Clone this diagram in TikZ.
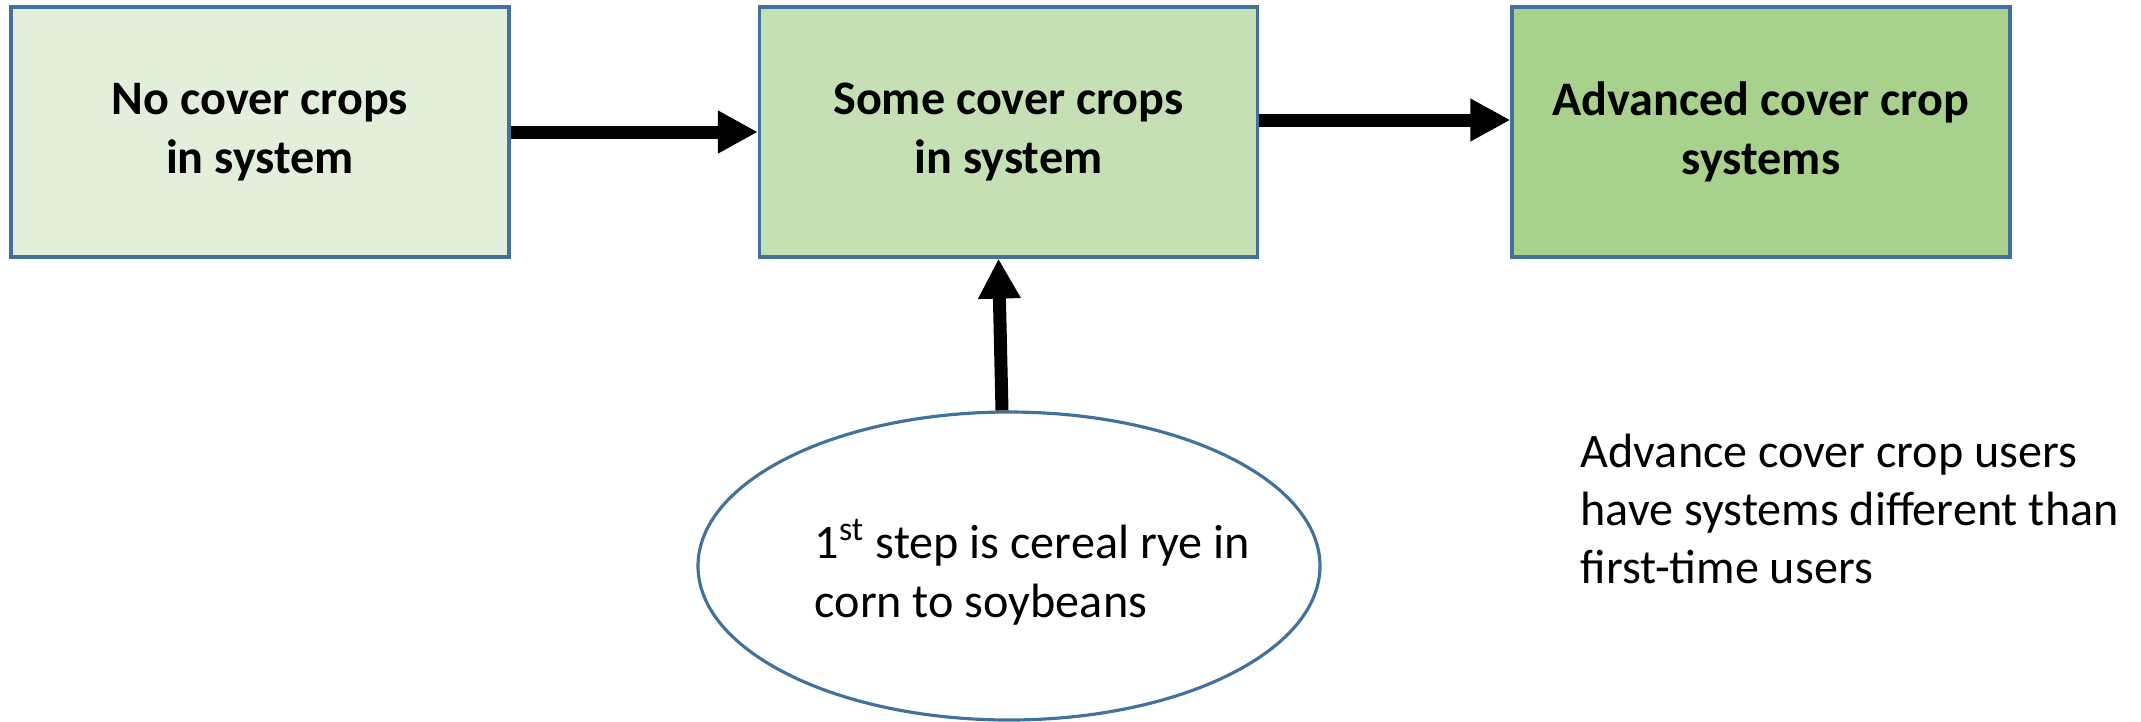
\documentclass[tikz,border=0pt]{standalone}
\usepackage{fontspec}
\setmainfont{Carlito}
\usetikzlibrary{arrows.meta, positioning, calc, shapes.geometric}
\definecolor{edgec}{HTML}{41719C}
\definecolor{nonec}{HTML}{E2EFDA}
\definecolor{somec}{HTML}{C5E0B4}
\definecolor{advc}{HTML}{A9D18E}
\newcommand{\diagfont}{\fontsize{13.7pt}{16.6pt}\selectfont}
\tikzset{
  stagebox/.style={rectangle, draw=edgec, line width=0.9pt,
    minimum width=4.98cm, minimum height=2.5cm, inner sep=0pt,
    align=center, font=\diagfont\bfseries},
  flow/.style={-{Triangle[length=4mm, width=4mm]}, line width=1.3mm, black}
}

\begin{document}
\begin{tikzpicture}
    \path[use as bounding box] (0,0) rectangle (21.41,-7.21);
    \node[stagebox, fill=nonec] (nocc) at (2.60,-1.32) {No cover crops\\in system};
    \node[stagebox, fill=somec] (somecc) at (10.085,-1.32) {Some cover crops\\in system};
    \node[stagebox, fill=advc] (advcc) at (17.61,-1.32) {Advanced cover crop\\systems};
    \node[ellipse, draw=edgec, fill=white, line width=0.9pt,
          minimum width=6.22cm, minimum height=3.08cm] (first) at (10.09,-5.66) {};
    \node[align=left, anchor=west, inner sep=0pt, font=\diagfont] (firsttxt) at (8.14,-5.72)
      {1\textsuperscript{st} step is cereal rye in\\corn to soybeans};
    \node[align=left, anchor=west, inner sep=0pt, font=\diagfont] (note) at (15.80,-5.09)
      {Advance cover crop users\\have systems different than\\first-time users};
    \draw[flow] (nocc.east) -- (somecc.west);
    \draw[flow] ([yshift=1.2mm]somecc.east) -- ([yshift=1.2mm]advcc.west);
    \draw[flow] ([xshift=-0.7mm]first.north) -- ([xshift=-1mm]somecc.south);
  \end{tikzpicture}
\end{document}
